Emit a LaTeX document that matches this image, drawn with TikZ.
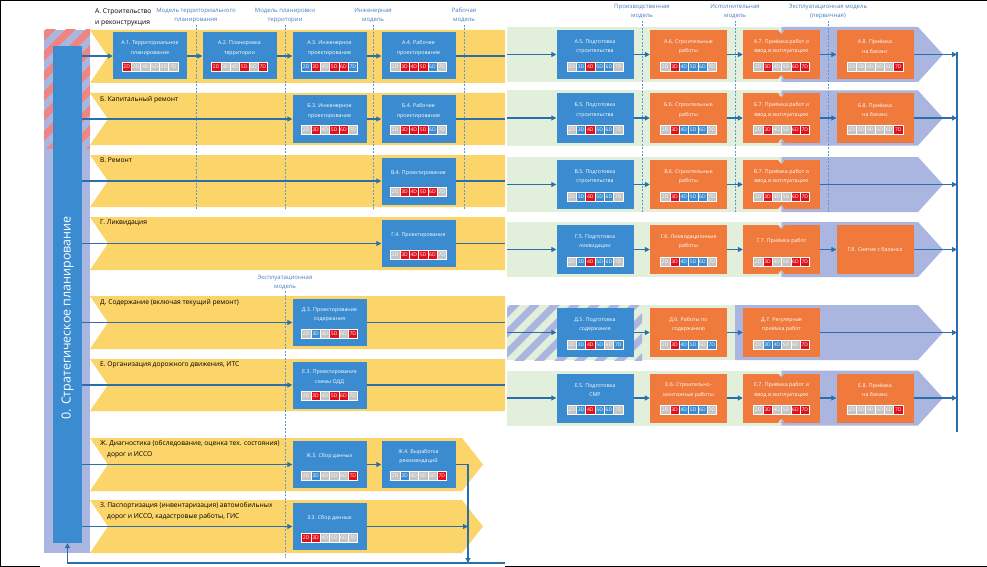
\documentclass[tikz,border=0pt]{standalone}
\usepackage{fontspec}
\setmainfont{Open Sans}
\usetikzlibrary{arrows.meta,calc}
\definecolor{yel}{HTML}{FBD46A}
\definecolor{bbl}{HTML}{3A8BCF}
\definecolor{orn}{HTML}{F0793C}
\definecolor{grn}{HTML}{E2EFDA}
\definecolor{lav}{HTML}{AAB5E0}
\definecolor{pnk}{HTML}{F08482}
\definecolor{arr}{HTML}{2A6EAA}
\definecolor{tg}{HTML}{C4C4C4}
\definecolor{tr}{HTML}{E0111B}
\definecolor{tb}{HTML}{3A8BCF}
\definecolor{dsh}{HTML}{5B9BD5}
\definecolor{mlb}{HTML}{4A7EC0}
\tikzset{
 lbox/.style={rectangle, fill=bbl, minimum width=74pt, minimum height=47pt, inner sep=0pt},
 rbbox/.style={rectangle, fill=bbl, minimum width=77pt, minimum height=49pt, inner sep=0pt},
 robox/.style={rbbox, fill=orn},
 ttl/.style={text=white, align=center, font=\fontsize{5.3}{9.5}\selectfont, inner sep=0pt},
 tagbox/.style={rectangle, draw=white, line width=0.6pt, minimum width=9.33pt, minimum height=9pt, inner sep=0pt, text=white, font=\fontsize{5}{5}\selectfont},
 flow/.style={draw=arr, line width=1.1pt, -{Triangle[length=5pt,width=5pt]}},
 flowline/.style={draw=arr, line width=1.1pt},
 mdl/.style={text=mlb, align=center, font=\fontsize{6}{9}\selectfont, inner sep=0pt},
 rowlbl/.style={anchor=west, align=left, font=\fontsize{6.7}{10.5}\selectfont, inner sep=0pt},
 guide/.style={draw=dsh, line width=0.5pt, dash pattern=on 2pt off 1.5pt},
}
\newcommand\tagrow[3]{%
 \foreach \c [count=\i from 0] in {#3} {
   \pgfmathtruncatemacro\dd{\i+2}
   \node[tagbox, fill=t\c] (#1t\i) at ($(#1.center)+(-23.33+9.33*\i,#2)$) {\dd D};
 }}
\newcommand\bx[7]{%
 \node[#2] (#1) at (#3,#4) {};
 \node[ttl] (#1l) at ($(#1.center)+(0,-8)$) {#5};
 \tagrow{#1}{#7}{#6}}
\newcommand\lband[2]{\fill[yel] (90,#1) -- (505,#1) -- (505,#2) -- (90,#2) -- (108,{(#1+#2)/2}) -- cycle;}
\newcommand\cband[2]{\fill[yel] (90,#1) -- (462,#1) -- (483,{(#1+#2)/2}) -- (462,#2) -- (90,#2) -- (108,{(#1+#2)/2}) -- cycle;}
\newcommand\rband[2]{%
 \fill[grn] (507,#1) rectangle (#2,{#1+55});
 \fill[lav] (#2,#1) -- (918,#1) -- (943,{#1+27.5}) -- (918,{#1+55}) -- (#2,{#1+55}) -- cycle;}
\newcommand\notch[1]{%
 \fill[grn] ($(#1.north)+(-3.5,0)$) -- ($(#1.north)+(0,4)$) -- (#1.north) -- cycle;
 \fill[lav] (#1.north) -- ($(#1.north)+(0,4)$) -- ($(#1.north)+(3.5,0)$) -- cycle;
 \fill[grn] ($(#1.south)+(-3.5,0)$) -- ($(#1.south)+(0,-4)$) -- (#1.south) -- cycle;
 \fill[lav] (#1.south) -- ($(#1.south)+(0,-4)$) -- ($(#1.south)+(3.5,0)$) -- cycle;}
\begin{document}
\begin{tikzpicture}[x=1pt,y=-1pt]
\useasboundingbox (0,0) rectangle (987,567);
\fill[white] (0,0) rectangle (987,567);
% frame
\draw[black, line width=1.5pt] (0,0.75) -- (987,0.75);
\draw[black, line width=1pt] (0.5,0) -- (0.5,566);
\draw[black, line width=1pt] (0,566) -- (40,566);
\draw[black, line width=1pt] (505,566) -- (987,566);
% strategic column
\fill[lav] (44,30) rectangle (90,553);
\begin{scope}
 \clip (44,30) rectangle (90,148);
 \foreach \i in {-160,-140,...,100} \draw[pnk, line width=7pt] (\i,180) -- ({\i+170},10);
\end{scope}
\node[fill=bbl, minimum width=29pt, minimum height=497pt, inner sep=0pt] (strat) at (67.5,294.5) {};
\node[rotate=90, text=white, font=\fontsize{12.5}{14}\selectfont, inner sep=0pt] (stratl) at (67.5,318) {0. Стратегическое планирование};
% left bands
\lband{30}{83}
\lband{93}{145}
\lband{155}{207}
\lband{217}{270}
\lband{296}{349}
\lband{359}{411}
\cband{438}{491}
\cband{500}{553}
% right bands
\rband{27}{781.5}
\rband{90.5}{781.5}
\rband{157}{781.5}
\rband{222}{781.5}
\rband{305}{735}
\rband{370.5}{781.5}
\begin{scope}
 \clip (507,305) rectangle (642,360);
 \foreach \i in {400,420,...,660} \draw[lav, line width=7pt] (\i,380) -- ({\i+100},280);
\end{scope}
% guides
\foreach \x in {196,285,373,464} \draw[guide] (\x,25) -- (\x,210);
\draw[guide] (285,291) -- (285,558);
\foreach \x in {642,735,828} \draw[guide] (\x,21) -- (\x,213);
% model labels
\node[mdl] (m1) at (196,15.5) {Модель территориального\\планирования};
\node[mdl] (m2) at (285,15.5) {Модель планировки\\территории};
\node[mdl] (m3) at (373,15.5) {Инженерная\\модель};
\node[mdl] (m4) at (464,15.5) {Рабочая\\модель};
\node[mdl] (m5) at (642,11.5) {Производственная\\модель};
\node[mdl] (m6) at (735,11.5) {Исполнительная\\модель};
\node[mdl] (m7) at (828,11.5) {Эксплуатационная модель\\(первичная)};
\node[mdl] (m8) at (285,282) {Эксплуатационная\\модель};
% row labels
\node[rowlbl] (LA) at (95,17.5) {А. Строительство\\и реконструкция};
\node[rowlbl] (LB) at (100,99.5) {Б. Капитальный ремонт};
\node[rowlbl] (LV) at (100,160.5) {В. Ремонт};
\node[rowlbl] (LG) at (100,222.5) {Г. Ликвидация};
\node[rowlbl] (LD) at (100,303) {Д. Содержание (включая текущий ремонт)};
\node[rowlbl] (LE) at (100,364.5) {Е. Организация дорожного движения, ИТС};
\node[rowlbl] (LZh) at (100,449) {Ж. Диагностика (обследование, оценка тех. состояния)\\\hspace*{7pt}дорог и ИССО};
\node[rowlbl] (LZ) at (100,511) {З. Паспортизация (инвентаризация) автомобильных\\\hspace*{7pt}дорог и ИССО, кадастровые работы, ГИС};
% boxes row A
\bx{A1}{lbox}{150}{56}{А.1. Территориальное\\планирование}{r,g,g,g,g,g}{11}
\bx{A2}{lbox}{239.5}{56}{А.2. Планировка\\территории}{r,g,g,r,g,r}{11}
\bx{A3}{lbox}{329.5}{56}{А.3. Инженерное\\проектирование}{b,r,g,r,r,b}{11}
\bx{A4}{lbox}{418.5}{56}{А.4. Рабочее\\проектирование}{g,r,r,r,b,g}{11}
\bx{A5}{rbbox}{595}{54.5}{А.5. Подготовка\\строительства}{g,b,r,b,b,g}{12}
\bx{A6}{robox}{688.5}{54.5}{А.6. Строительные\\работы}{g,r,b,b,b,g}{12}
\bx{A7}{robox}{781.5}{54.5}{А.7. Приёмка работ и\\ввод в эксплуатацию}{g,r,g,g,r,r}{12}
\bx{A8}{robox}{875}{54.5}{А.8. Приёмка\\на баланс}{g,g,g,g,g,r}{12}
% row B
\bx{B3}{lbox}{329.5}{119}{Б.3. Инженерное\\проектирование}{g,r,g,r,r,g}{11}
\bx{B4}{lbox}{418.5}{119}{Б.4. Рабочее\\проектирование}{g,r,r,r,b,g}{11}
\bx{B5}{rbbox}{595}{118}{Б.5. Подготовка\\строительства}{g,b,r,b,b,g}{12}
\bx{B6}{robox}{688.5}{118}{Б.6. Строительные\\работы}{g,r,b,b,b,g}{12}
\bx{B7}{robox}{781.5}{118}{Б.7. Приёмка работ и\\ввод в эксплуатацию}{g,r,g,g,r,r}{12}
\bx{B8}{robox}{875}{118}{Б.8. Приёмка\\на баланс}{g,g,g,g,g,r}{12}
% row V
\bx{V4}{lbox}{418.5}{181}{В.4. Проектирование}{g,r,r,r,r,g}{11}
\bx{V5}{rbbox}{595}{184.5}{В.5. Подготовка\\строительства}{g,b,r,b,b,g}{12}
\bx{V6}{robox}{688.5}{184.5}{В.6. Строительные\\работы}{g,r,b,b,b,g}{12}
\bx{V7}{robox}{781.5}{184.5}{В.7. Приёмка работ и\\ввод в эксплуатацию}{g,r,g,g,r,r}{12}
% row G
\bx{G4}{lbox}{418.5}{243.5}{Г.4. Проектирование}{g,r,r,r,r,g}{11}
\bx{G5}{rbbox}{595}{249.5}{Г.5. Подготовка\\ликвидации}{g,b,r,b,b,g}{12}
\bx{G6}{robox}{688.5}{249.5}{Г.6. Ликвидационные\\работы}{g,r,b,b,b,g}{12}
\bx{G7}{robox}{781.5}{249.5}{Г.7. Приёмка работ}{g,r,g,g,r,r}{12}
\node[robox] (G8) at (875,249.5) {};
\node[ttl] (G8l) at (G8) {Г.8. Снятие с баланса};
% row D
\bx{D3}{lbox}{329.5}{322.5}{Д.3. Проектирование\\содержания}{g,b,g,r,g,r}{11}
\bx{D5}{rbbox}{595}{332.5}{Д.5. Подготовка\\содержания}{g,b,r,b,g,b}{12}
\bx{D6}{robox}{688.5}{332.5}{Д.6. Работы по\\содержанию}{g,r,b,b,g,b}{12}
\bx{D7}{robox}{781.5}{332.5}{Д.7. Регулярная\\приёмка работ}{g,b,b,g,g,r}{12}
% row E
\bx{E3}{lbox}{329.5}{385}{Е.3. Проектирование\\схемы ОДД}{g,r,g,r,r,g}{11}
\bx{E5}{rbbox}{595}{398}{Е.5. Подготовка\\СМР}{g,b,r,b,b,g}{12}
\bx{E6}{robox}{688.5}{398}{Е.6. Строительно-\\монтажные работы}{g,r,b,b,b,g}{12}
\bx{E7}{robox}{781.5}{398}{Е.7. Приёмка работ и\\ввод в эксплуатацию}{g,r,g,g,r,r}{12}
\bx{E8}{robox}{875}{398}{Е.8. Приёмка\\на баланс}{g,g,g,g,g,r}{12}
% rows Zh, Z
\bx{Zh3}{lbox}{329.5}{464.5}{Ж.3. Сбор данных}{g,b,g,g,g,r}{11}
\bx{Zh4}{lbox}{418.5}{464.5}{Ж.4. Выработка\\рекомендаций}{g,b,g,g,g,r}{11}
\bx{Z3}{lbox}{329.5}{526.5}{З.3. Сбор данных}{r,r,g,g,g,g}{11}
% notches
\notch{A7}\notch{B7}\notch{V7}\notch{G7}\notch{E7}
% coordinates
\coordinate (Ae) at (505,56);   \coordinate (As) at (507,54.5);
\coordinate (Be) at (505,119);  \coordinate (Bs) at (507,118);
\coordinate (Ve) at (505,181);  \coordinate (Vs) at (507,184.5);
\coordinate (Ge) at (505,243.5);\coordinate (Gs) at (507,249.5);
\coordinate (De) at (505,322.5);\coordinate (Ds) at (507,332.5);
\coordinate (Ee) at (505,385);  \coordinate (Es) at (507,398);
\coordinate (vt) at (957,52);   \coordinate (vb) at (957,432);
\coordinate (jz) at (468,563);  \coordinate (br) at (505,563);
% arrows from strategy
\foreach \n in {A1,B3,V4,G4,D3,E3,Zh3,Z3} \draw[flow] (strat.east |- \n) -- (\n);
% chains
\draw[flow] (A1) -- (A2);
\draw[flow] (A2) -- (A3);
\draw[flow] (A3) -- (A4);
\draw[flow] (B3) -- (B4);
\draw[flow] (Zh3) -- (Zh4);
\draw[flowline] (A4) -- (Ae); \draw[flow] (As) -- (A5);
\draw[flowline] (B4) -- (Be); \draw[flow] (Bs) -- (B5);
\draw[flowline] (V4) -- (Ve); \draw[flow] (Vs) -- (V5);
\draw[flowline] (G4) -- (Ge); \draw[flow] (Gs) -- (G5);
\draw[flowline] (D3) -- (De); \draw[flow] (Ds) -- (D5);
\draw[flowline] (E3) -- (Ee); \draw[flow] (Es) -- (E5);
\draw[flow] (A5) -- (A6); \draw[flow] (A6) -- (A7); \draw[flow] (A7) -- (A8);
\draw[flow] (B5) -- (B6); \draw[flow] (B6) -- (B7); \draw[flow] (B7) -- (B8);
\draw[flow] (V5) -- (V6); \draw[flow] (V6) -- (V7);
\draw[flow] (G5) -- (G6); \draw[flow] (G6) -- (G7); \draw[flow] (G7) -- (G8);
\draw[flow] (D5) -- (D6); \draw[flow] (D6) -- (D7);
\draw[flow] (E5) -- (E6); \draw[flow] (E6) -- (E7); \draw[flow] (E7) -- (E8);
% right collector
\draw[flowline] (vt) -- (vb);
\foreach \n in {A8,B8,V7,G8,D7,E8} \draw[flow] (\n) -- (\n -| vt);
% feedback
\draw[flow] (Zh4) -- (Zh4 -| jz) -- (jz);
\draw[flow] (Z3) -- (Z3 -| jz);
\draw[flow] (br) -- (strat.south |- br) -- (strat.south);
\end{tikzpicture}
\end{document}
